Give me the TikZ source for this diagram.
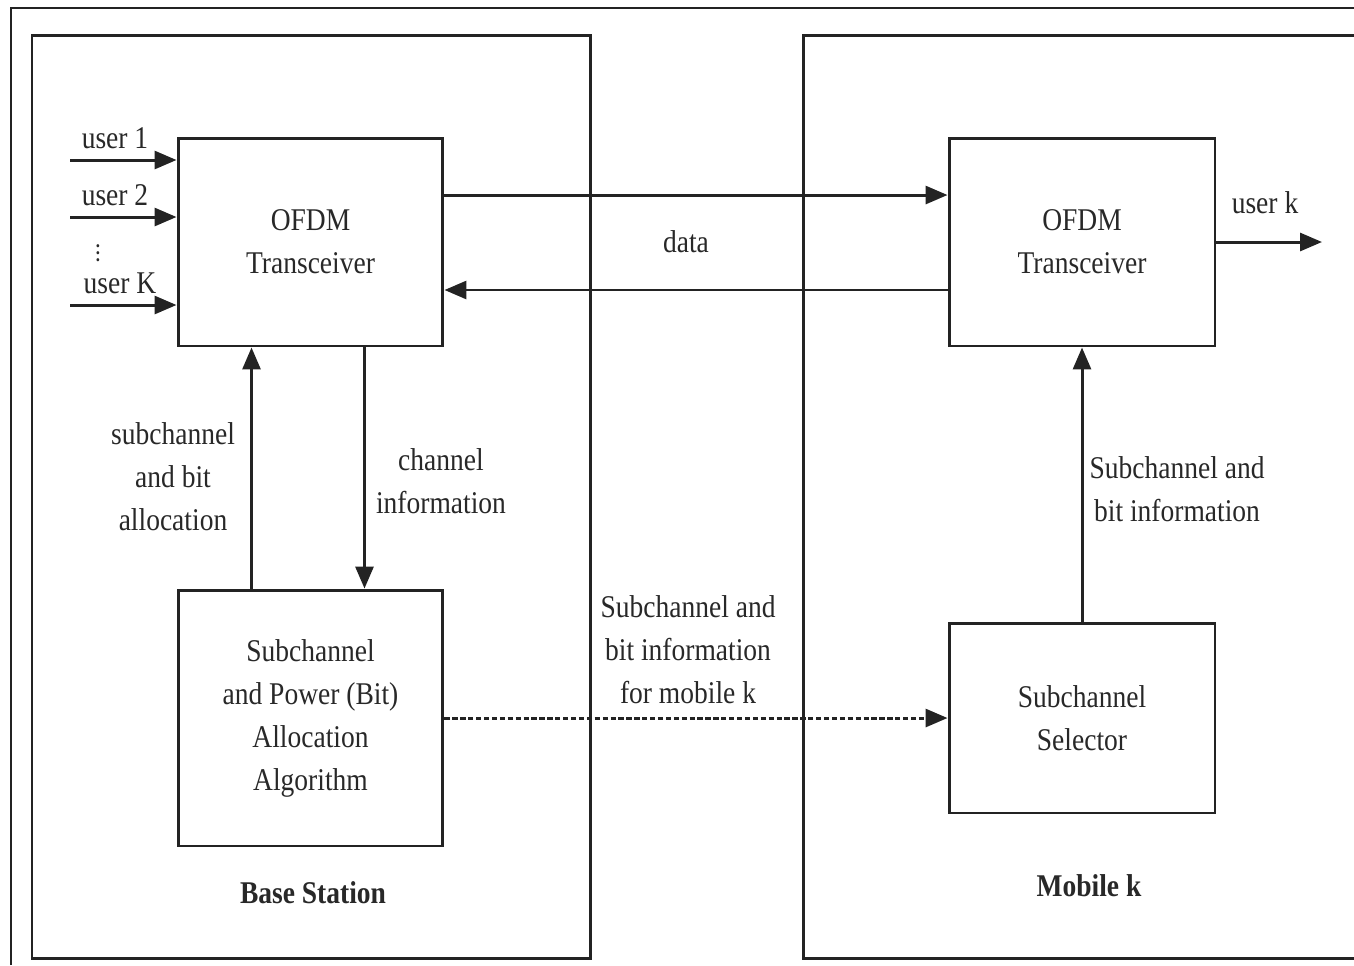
\documentclass[tikz,border=0pt]{standalone}
\usepackage{fontspec}
\setmainfont{Liberation Serif}[FakeStretch=0.87]
\usetikzlibrary{arrows.meta,positioning}
\definecolor{ofedge}{RGB}{35,35,35}
\definecolor{ofink}{RGB}{40,40,40}
\tikzset{
  blk/.style={
    draw=ofedge, line width=1.7pt, align=center, inner sep=0pt,
    font=\fontsize{18}{24.5}\selectfont, text=ofink
  },
  zone/.style={draw=ofedge, line width=1.7pt},
  arr/.style={-{Triangle[length=4.4mm,width=3.6mm]}, draw=ofedge, line width=1.7pt},
  darr/.style={arr, dash pattern=on 3pt off 1.5pt},
  lbl/.style={font=\fontsize{18}{24.5}\selectfont, text=ofink, align=center, inner sep=0pt},
  ttl/.style={font=\fontsize{18}{22}\selectfont\bfseries, text=ofink, inner sep=0pt}
}
\begin{document}
\begin{tikzpicture}[x=0.02cm, y=-0.02cm]
  \useasboundingbox (0,0) rectangle (1354,965);
  % outer frame and the two sides
  \draw[ofedge, line width=1.1pt] (11,965) -- (11,8) -- (1354,8);
  \draw[zone] (32,35) rectangle (590,958);
  \draw[zone] (1354,35) -- (803,35) -- (803,958) -- (1354,958);

  % blocks
  \node[blk, minimum width=5.3cm, minimum height=4.16cm] (txbs) at (310.5,242) {OFDM\\Transceiver};
  \node[blk, minimum width=5.3cm, minimum height=5.12cm] (alloc) at (310.5,718)
    {Subchannel\\and Power (Bit)\\Allocation\\Algorithm};
  \node[blk, minimum width=5.32cm, minimum height=4.16cm] (txms) at (1082,242) {OFDM\\Transceiver};
  \node[blk, minimum width=5.32cm, minimum height=3.8cm] (sel) at (1082,718) {Subchannel\\Selector};

  % user inputs
  \coordinate (u1) at (70,160);
  \coordinate (u2) at (70,217);
  \coordinate (uK) at (70,305);
  \coordinate (uk) at (1322,242);
  \draw[arr] (u1) -- (u1 -| txbs.west);
  \draw[arr] (u2) -- (u2 -| txbs.west);
  \draw[arr] (uK) -- (uK -| txbs.west);
  \draw[arr] (txms.east) -- (uk);
  \node[lbl] (l1) at (115,138) {user 1};
  \node[lbl] (l2) at (115,195) {user 2};
  \node[lbl] (lK) at (120,283) {user K};
  \node[lbl, font=\fontsize{11}{11}\selectfont\bfseries] (ldots) at (98,248) {$\vdots$};
  \node[lbl] (lk) at (1265,203) {user k};

  % data link
  \draw[arr] ([yshift=0.94cm]txbs.east) -- ([yshift=0.94cm]txms.west);
  \draw[arr] ([yshift=-0.96cm]txms.west) -- ([yshift=-0.96cm]txbs.east);
  \node[lbl] (ldata) at (686,242) {data};

  % base station loop
  \draw[arr] ([xshift=1.5cm]alloc.north west) -- ([xshift=1.5cm]txbs.south west);
  \draw[arr] ([xshift=3.76cm]txbs.south west) -- ([xshift=3.76cm]alloc.north west);
  \node[lbl] (lalloc) at (173,477) {subchannel\\and bit\\allocation};
  \node[lbl] (lchan) at (441,481) {channel\\information};

  % mobile side
  \draw[arr] (sel.north) -- (txms.south);
  \node[lbl] (lbit) at (1177,489) {Subchannel and\\bit information};
  \draw[darr] (alloc.east) -- (sel.west);
  \node[lbl] (lmob) at (688,650) {Subchannel and\\bit information\\for mobile k};

  \node[ttl] (tbs) at (313,893) {Base Station};
  \node[ttl] (tmk) at (1089,886) {Mobile k};
\end{tikzpicture}
\end{document}
